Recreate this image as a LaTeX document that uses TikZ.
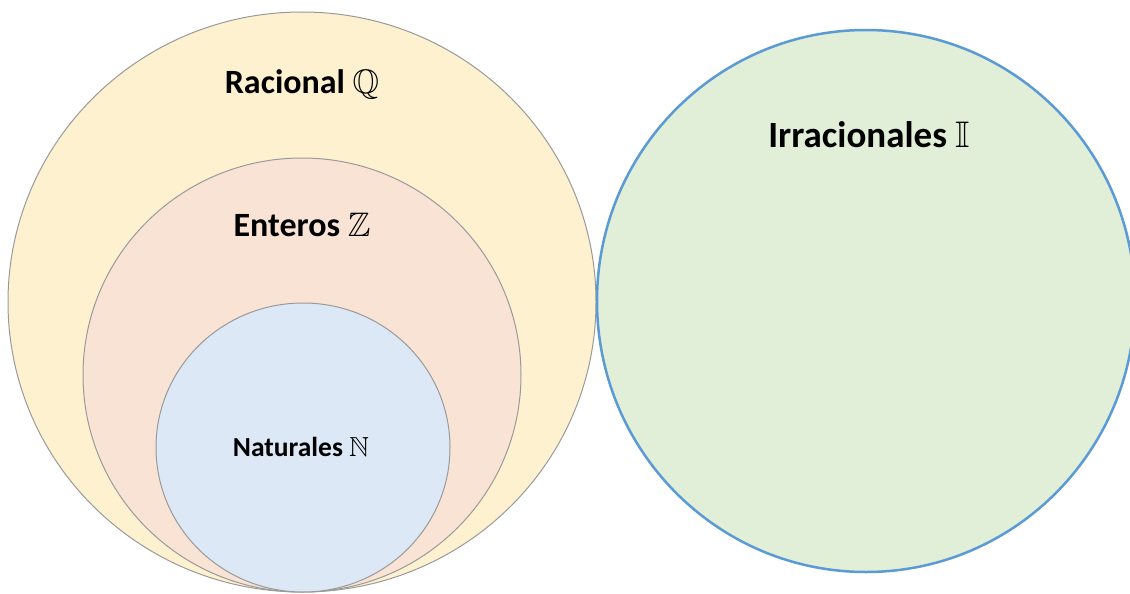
\documentclass[tikz,border=0pt]{standalone}
\usepackage{amssymb}
\usepackage{fontspec}
\setmainfont{Carlito}
\usetikzlibrary{shapes.geometric}
\definecolor{qfill}{HTML}{FDF1D0}
\definecolor{zfill}{HTML}{F9E3D5}
\definecolor{nfill}{HTML}{DCE8F5}
\definecolor{ifill}{HTML}{E1EED8}
\definecolor{setline}{HTML}{9A9A9A}
\definecolor{iline}{HTML}{5B9BD5}
\tikzset{
  setshape/.style={ellipse, inner sep=0pt, outer sep=0pt, draw=setline, line width=1pt},
  setlabel/.style={anchor=base, inner sep=0pt, font=\bfseries},
}
\begin{document}
\begin{tikzpicture}[x=1pt,y=-1pt]
\useasboundingbox (0,0) rectangle (1130,594);
\fill[white] (0,0) rectangle (1130,594);
\node[setshape, fill=qfill, minimum width=588pt, minimum height=580pt] (Q) at (302,302) {};
\node[setshape, fill=zfill, minimum width=438pt, minimum height=434pt] (Z) at (302,375) {};
\node[setshape, fill=nfill, minimum width=294pt, minimum height=289pt] (N) at (303,447.5) {};
\node[setshape, fill=ifill, draw=iline, line width=2.5pt, minimum width=538pt, minimum height=542pt] (I) at (866,301) {};
\node[setlabel, font=\bfseries\fontsize{34}{38}\selectfont] (lq) at (302,93) {Racional $\mathbb{Q}$};
\node[setlabel, font=\bfseries\fontsize{34}{38}\selectfont] (lz) at (302,236) {Enteros $\mathbb{Z}$};
\node[setlabel, font=\bfseries\fontsize{27.5}{30}\selectfont] (ln) at (301,456) {Naturales $\mathbb{N}$};
\node[setlabel, font=\bfseries\fontsize{37}{41}\selectfont] (li) at (869,147) {Irracionales $\mathbb{I}$};
\end{tikzpicture}
\end{document}
